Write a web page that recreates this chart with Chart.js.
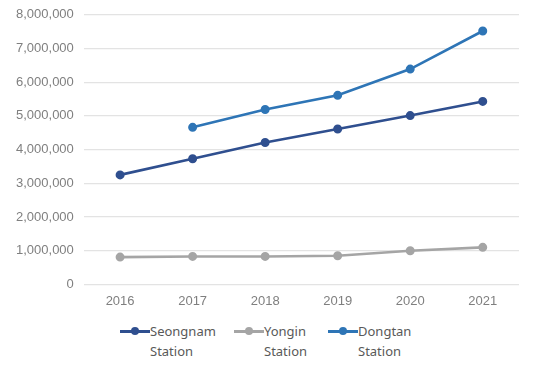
<!DOCTYPE html>
<html>
<head>
<meta charset="utf-8">
<script src="https://cdn.jsdelivr.net/npm/chart.js@4.4.0/dist/chart.umd.min.js"></script>
<style>
  body { margin:0; background:#fff; font-family:"Noto Sans", Arial, sans-serif; }
  #wrap { position:relative; width:541px; height:313px; margin-top:-3px; }
  #legend { position:absolute; top:321px; left:0; width:541px; height:45px; }
  .item { position:absolute; top:0; display:flex; align-items:flex-start; color:#595959; font-size:13px; line-height:20px; }
  .swatch { position:relative; width:30px; height:20px; }
  .swatch .ln { position:absolute; left:0; right:0; top:8.5px; height:3px; }
  .swatch .dt { position:absolute; left:11px; top:6px; width:8px; height:8px; border-radius:50%; }
</style>
</head>
<body>
<div id="wrap"><canvas id="chart"></canvas></div>
<div id="legend"></div>
<script>
const years = ['2016','2017','2018','2019','2020','2021'];
const seongnam = [3250000, 3730000, 4210000, 4610000, 5010000, 5430000];
const yongin = [810000, 830000, 830000, 850000, 1000000, 1100000];
const dongtan = [null, 4660000, 5190000, 5610000, 6390000, 7520000];
const seriesNames = [['Seongnam', 'Station'], ['Yongin', 'Station'], ['Dongtan', 'Station']];
const seriesColors = ['#2f4f8f', '#a5a5a5', '#2e75b6'];
const legendX = [120, 234, 328];

function ds(data, i) {
  return {
    label: seriesNames[i].join(' '),
    data: data,
    borderColor: seriesColors[i],
    backgroundColor: seriesColors[i],
    borderWidth: 2.6,
    pointRadius: 3.2,
    pointHoverRadius: 3.2,
    tension: 0
  };
}

new Chart(document.getElementById('chart'), {
  type: 'line',
  data: {
    labels: years,
    datasets: [ds(seongnam, 0), ds(yongin, 1), ds(dongtan, 2)]
  },
  options: {
    responsive: true,
    maintainAspectRatio: false,
    animation: false,
    layout: { padding: { left: 6, right: 22, top: 1, bottom: 0 } },
    plugins: { legend: { display: false }, tooltip: { enabled: false } },
    scales: {
      x: {
        offset: true,
        grid: { display: false },
        border: { display: false },
        ticks: { color: '#7f7f7f', font: { size: 13 }, padding: 1 }
      },
      y: {
        min: 0, max: 8000000,
        ticks: {
          stepSize: 1000000, color: '#7f7f7f', font: { size: 13 }, padding: 10,
          callback: v => v.toLocaleString('en-US')
        },
        grid: { color: '#e3e3e3', lineWidth: 1.2, drawTicks: false },
        border: { display: false }
      }
    }
  }
});

const leg = document.getElementById('legend');
seriesNames.forEach((n, i) => {
  const el = document.createElement('div');
  el.className = 'item';
  el.style.left = legendX[i] + 'px';
  el.innerHTML = '<div class="swatch"><div class="ln" style="background:' + seriesColors[i] + '"></div><div class="dt" style="background:' + seriesColors[i] + '"></div></div><div>' + n[0] + '<br>' + n[1] + '</div>';
  leg.appendChild(el);
});
</script>
</body>
</html>
